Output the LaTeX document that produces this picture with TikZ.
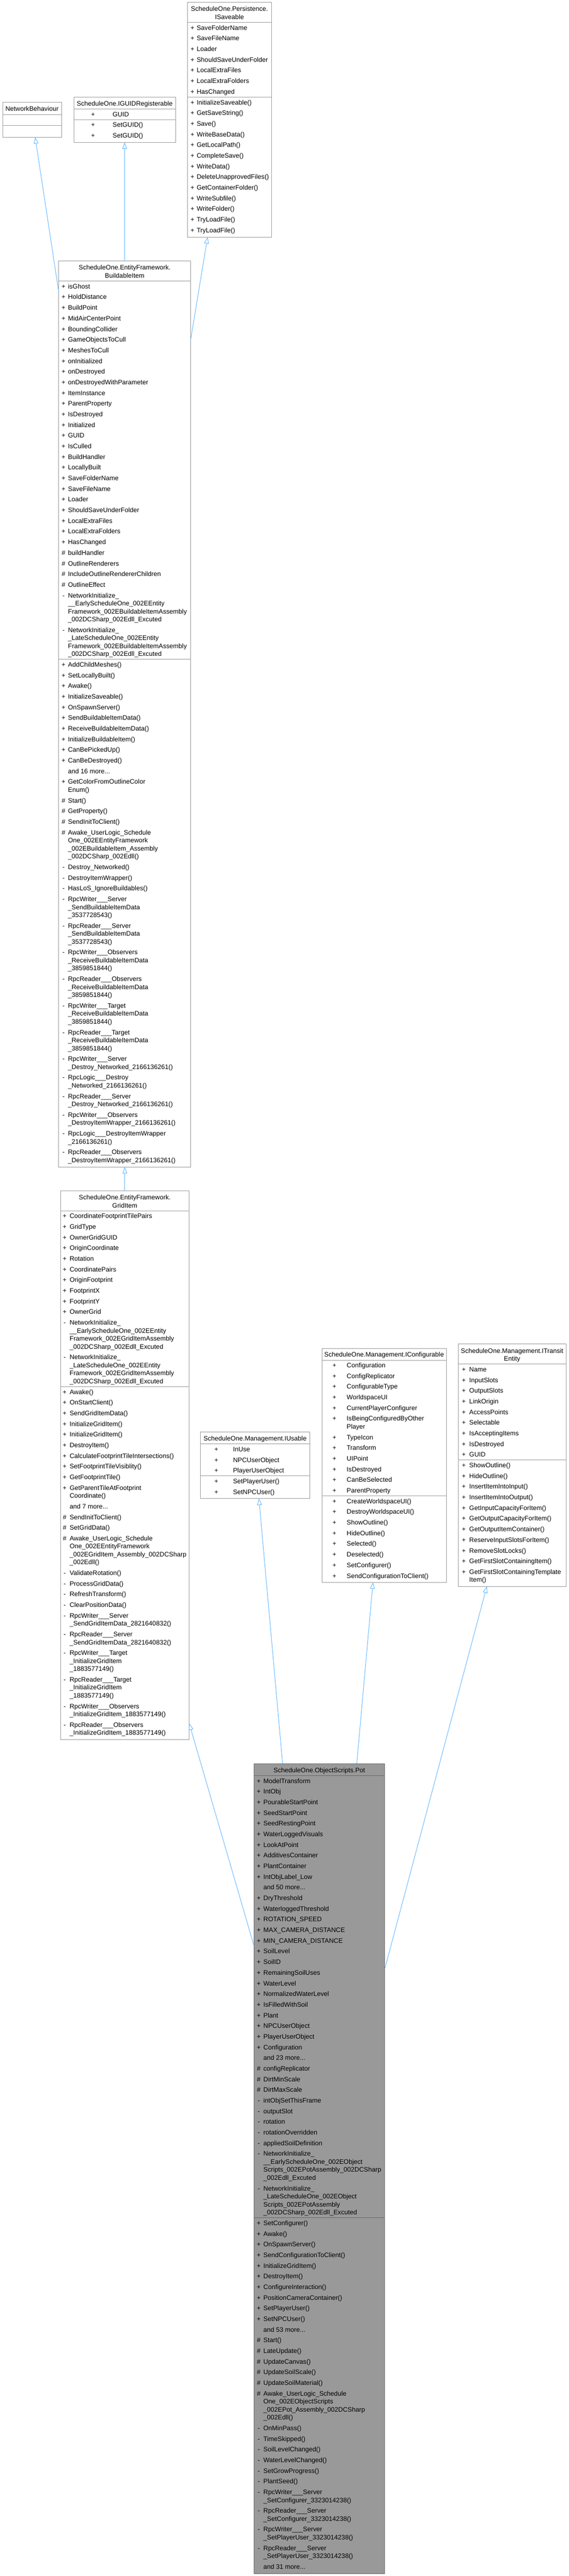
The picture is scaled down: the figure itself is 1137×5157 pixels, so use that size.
\documentclass[tikz,border=0pt]{standalone}
\usepackage{fontspec}
\setmainfont{Liberation Sans}
\usetikzlibrary{arrows.meta,calc}
\definecolor{boxgray}{HTML}{999999}
\definecolor{potborder}{HTML}{666666}
\definecolor{edgeblue}{HTML}{63B8FF}
\newcount\tn
\def\cy{0}\def\symx{0}\def\txtx{0}
\newcommand\fs{\fontsize{13}{16}\selectfont}
\newcommand\rowsat[3]{\gdef\symx{#1}\gdef\txtx{#2}\pgfmathparse{#3-21.33}\xdef\cy{\pgfmathresult}}
\newcommand\ent[2]{\pgfmathparse{\cy+21.33}\xdef\cy{\pgfmathresult}\global\advance\tn by 1\relax
  \node[txt,anchor=base] (s\the\tn) at (\symx,\cy+4.7) {#1};
  \node[txt,anchor=base west] (t\the\tn) at (\txtx,\cy+4.7) {#2};}
\newcommand\mor[1]{\pgfmathparse{\cy+21.33}\xdef\cy{\pgfmathresult}\global\advance\tn by 1\relax
  \node[txt,anchor=base west] (t\the\tn) at (\txtx,\cy+4.7) {#1};}
\newcommand\cnt[1]{\pgfmathparse{\cy+16}\xdef\cy{\pgfmathresult}\global\advance\tn by 1\relax
  \node[txt,anchor=base west] (t\the\tn) at (\txtx,\cy+4.7) {#1};}
\newcommand\sepat[2]{\draw[sepl] (#1,\cy+10.67) -- (#2,\cy+10.67);}
\newcommand\ttl[3]{\global\advance\tn by 1\relax\node[txt,anchor=base] (h\the\tn) at (#1,#2+4.7) {#3};}
\begin{document}
\begin{tikzpicture}[x=1pt,y=-1pt,
  txt/.style={inner sep=0pt,outer sep=0pt,font=\fs,text=black},
  cbox/.style={draw=boxgray,fill=white,line width=1pt,inner sep=0pt,outer sep=0pt,anchor=north west},
  mainbox/.style={cbox,draw=potborder,fill=boxgray},
  sepl/.style={draw=boxgray,line width=1pt},
  psepl/.style={draw=potborder,line width=1pt},
  inh/.style={draw=edgeblue,line width=1pt,-{Triangle[fill=white,length=13pt,width=9.5pt]}}]
\fill[white] (0,0) rectangle (1137,5157);
\useasboundingbox (0,0) rectangle (1137,5157);

% ---------- boxes ----------
\node[cbox,minimum width=117.6pt,minimum height=69.6pt] (nb) at (5.2,205) {};
\node[cbox,minimum width=203.5pt,minimum height=90.4pt] (iguid) at (147.6,194.6) {};
\node[cbox,minimum width=167.9pt,minimum height=469.6pt] (isave) at (374.8,5) {};
\node[cbox,minimum width=263.5pt,minimum height=1813.4pt] (bi) at (117.5,522.8) {};
\node[cbox,minimum width=257.6pt,minimum height=1098.2pt] (gi) at (120.7,2383.8) {};
\node[cbox,minimum width=218pt,minimum height=133.3pt] (iuse) at (401,2866.7) {};
\node[cbox,minimum width=248.6pt,minimum height=468.3pt] (iconf) at (643.7,2699.3) {};
\node[cbox,minimum width=215.7pt,minimum height=485.2pt] (ite) at (916,2690.8) {};
\node[mainbox,minimum width=261.6pt,minimum height=1621.7pt] (pot) at (507.7,3530.6) {};

% ---------- connectors ----------
\draw[inh] ($(bi.north west)+(0,62.2)$) -- ($(nb.south west)+(65.1,0)$);
\draw[inh] (bi.north) -- (bi.north |- iguid.south);
\draw[inh] ($(bi.north east)+(0,158.6)$) -- ($(isave.south west)+(40.2,0)$);
\draw[inh] (gi.north) -- (gi.north |- bi.south);
\draw[inh] ($(pot.north west)+(0,364.4)$) -- ($(gi.north east)+(0,1066.5)$);
\draw[inh] ($(pot.north west)+(57.3,0)$) -- ($(iuse.south west)+(116.7,0)$);
\draw[inh] ($(pot.north west)+(205.6,0)$) -- ($(iconf.south west)+(102,0)$);
\draw[inh] ($(pot.north east)+(0,410.7)$) -- ($(ite.south west)+(57.3,0)$);

% ---------- NetworkBehaviour ----------
\ttl{64}{217.9}{NetworkBehaviour}
\draw[sepl] (5.2,229.3) -- (122.8,229.3);
\draw[sepl] (5.2,251.1) -- (122.8,251.1);

% ---------- IGUIDRegisterable ----------
\ttl{249.35}{207.1}{ScheduleOne.IGUIDRegisterable}
\draw[sepl] (147.6,218.6) -- (351.1,218.6);
\rowsat{186}{225.3}{228.6}
\ent{+}{GUID}
\sepat{147.6}{351.1}
\ent{+}{SetGUID()}
\ent{+}{SetGUID()}

% ---------- ISaveable ----------
\ttl{458.75}{17.9}{ScheduleOne.Persistence.}
\ttl{458.75}{34.3}{ISaveable}
\draw[sepl] (374.8,45) -- (542.7,45);
\rowsat{384.8}{393.3}{55.4}
\ent{+}{SaveFolderName}
\ent{+}{SaveFileName}
\ent{+}{Loader}
\ent{+}{ShouldSaveUnderFolder}
\ent{+}{LocalExtraFiles}
\ent{+}{LocalExtraFolders}
\ent{+}{HasChanged}
\sepat{374.8}{542.7}
\ent{+}{InitializeSaveable()}
\ent{+}{GetSaveString()}
\ent{+}{Save()}
\ent{+}{WriteBaseData()}
\ent{+}{GetLocalPath()}
\ent{+}{CompleteSave()}
\ent{+}{WriteData()}
\ent{+}{DeleteUnapprovedFiles()}
\ent{+}{GetContainerFolder()}
\ent{+}{WriteSubfile()}
\ent{+}{WriteFolder()}
\ent{+}{TryLoadFile()}
\ent{+}{TryLoadFile()}

% ---------- BuildableItem ----------
\ttl{249.25}{535.7}{ScheduleOne.EntityFramework.}
\ttl{249.25}{551.6}{BuildableItem}
\draw[sepl] (117.5,562.9) -- (381,562.9);
\rowsat{127}{136}{573.2}
\ent{+}{isGhost}
\ent{+}{HoldDistance}
\ent{+}{BuildPoint}
\ent{+}{MidAirCenterPoint}
\ent{+}{BoundingCollider}
\ent{+}{GameObjectsToCull}
\ent{+}{MeshesToCull}
\ent{+}{onInitialized}
\ent{+}{onDestroyed}
\ent{+}{onDestroyedWithParameter}
\ent{+}{ItemInstance}
\ent{+}{ParentProperty}
\ent{+}{IsDestroyed}
\ent{+}{Initialized}
\ent{+}{GUID}
\ent{+}{IsCulled}
\ent{+}{BuildHandler}
\ent{+}{LocallyBuilt}
\ent{+}{SaveFolderName}
\ent{+}{SaveFileName}
\ent{+}{Loader}
\ent{+}{ShouldSaveUnderFolder}
\ent{+}{LocalExtraFiles}
\ent{+}{LocalExtraFolders}
\ent{+}{HasChanged}
\ent{\#}{buildHandler}
\ent{\#}{OutlineRenderers}
\ent{\#}{IncludeOutlineRendererChildren}
\ent{\#}{OutlineEffect}
\ent{-}{NetworkInitialize\_}
\cnt{\_\_EarlyScheduleOne\_002EEntity}
\cnt{Framework\_002EBuildableItemAssembly}
\cnt{\_002DCSharp\_002Edll\_Excuted}
\ent{-}{NetworkInitialize\_}
\cnt{\_LateScheduleOne\_002EEntity}
\cnt{Framework\_002EBuildableItemAssembly}
\cnt{\_002DCSharp\_002Edll\_Excuted}
\sepat{117.5}{381}
\ent{+}{AddChildMeshes()}
\ent{+}{SetLocallyBuilt()}
\ent{+}{Awake()}
\ent{+}{InitializeSaveable()}
\ent{+}{OnSpawnServer()}
\ent{+}{SendBuildableItemData()}
\ent{+}{ReceiveBuildableItemData()}
\ent{+}{InitializeBuildableItem()}
\ent{+}{CanBePickedUp()}
\ent{+}{CanBeDestroyed()}
\mor{and 16 more...}
\ent{+}{GetColorFromOutlineColor}
\cnt{Enum()}
\ent{\#}{Start()}
\ent{\#}{GetProperty()}
\ent{\#}{SendInitToClient()}
\ent{\#}{Awake\_UserLogic\_Schedule}
\cnt{One\_002EEntityFramework}
\cnt{\_002EBuildableItem\_Assembly}
\cnt{\_002DCSharp\_002Edll()}
\ent{-}{Destroy\_Networked()}
\ent{-}{DestroyItemWrapper()}
\ent{-}{HasLoS\_IgnoreBuildables()}
\ent{-}{RpcWriter\_\_\_Server}
\cnt{\_SendBuildableItemData}
\cnt{\_3537728543()}
\ent{-}{RpcReader\_\_\_Server}
\cnt{\_SendBuildableItemData}
\cnt{\_3537728543()}
\ent{-}{RpcWriter\_\_\_Observers}
\cnt{\_ReceiveBuildableItemData}
\cnt{\_3859851844()}
\ent{-}{RpcReader\_\_\_Observers}
\cnt{\_ReceiveBuildableItemData}
\cnt{\_3859851844()}
\ent{-}{RpcWriter\_\_\_Target}
\cnt{\_ReceiveBuildableItemData}
\cnt{\_3859851844()}
\ent{-}{RpcReader\_\_\_Target}
\cnt{\_ReceiveBuildableItemData}
\cnt{\_3859851844()}
\ent{-}{RpcWriter\_\_\_Server}
\cnt{\_Destroy\_Networked\_2166136261()}
\ent{-}{RpcLogic\_\_\_Destroy}
\cnt{\_Networked\_2166136261()}
\ent{-}{RpcReader\_\_\_Server}
\cnt{\_Destroy\_Networked\_2166136261()}
\ent{-}{RpcWriter\_\_\_Observers}
\cnt{\_DestroyItemWrapper\_2166136261()}
\ent{-}{RpcLogic\_\_\_DestroyItemWrapper}
\cnt{\_2166136261()}
\ent{-}{RpcReader\_\_\_Observers}
\cnt{\_DestroyItemWrapper\_2166136261()}

% ---------- GridItem ----------
\ttl{249.5}{2397.2}{ScheduleOne.EntityFramework.}
\ttl{249.5}{2413.3}{GridItem}
\draw[sepl] (120.7,2424) -- (378.3,2424);
\rowsat{129.3}{139.3}{2434.3}
\ent{+}{CoordinateFootprintTilePairs}
\ent{+}{GridType}
\ent{+}{OwnerGridGUID}
\ent{+}{OriginCoordinate}
\ent{+}{Rotation}
\ent{+}{CoordinatePairs}
\ent{+}{OriginFootprint}
\ent{+}{FootprintX}
\ent{+}{FootprintY}
\ent{+}{OwnerGrid}
\ent{-}{NetworkInitialize\_}
\cnt{\_\_EarlyScheduleOne\_002EEntity}
\cnt{Framework\_002EGridItemAssembly}
\cnt{\_002DCSharp\_002Edll\_Excuted}
\ent{-}{NetworkInitialize\_}
\cnt{\_LateScheduleOne\_002EEntity}
\cnt{Framework\_002EGridItemAssembly}
\cnt{\_002DCSharp\_002Edll\_Excuted}
\sepat{120.7}{378.3}
\ent{+}{Awake()}
\ent{+}{OnStartClient()}
\ent{+}{SendGridItemData()}
\ent{+}{InitializeGridItem()}
\ent{+}{InitializeGridItem()}
\ent{+}{DestroyItem()}
\ent{+}{CalculateFootprintTileIntersections()}
\ent{+}{SetFootprintTileVisiblity()}
\ent{+}{GetFootprintTile()}
\ent{+}{GetParentTileAtFootprint}
\cnt{Coordinate()}
\mor{and 7 more...}
\ent{\#}{SendInitToClient()}
\ent{\#}{SetGridData()}
\ent{\#}{Awake\_UserLogic\_Schedule}
\cnt{One\_002EEntityFramework}
\cnt{\_002EGridItem\_Assembly\_002DCSharp}
\cnt{\_002Edll()}
\ent{-}{ValidateRotation()}
\ent{-}{ProcessGridData()}
\ent{-}{RefreshTransform()}
\ent{-}{ClearPositionData()}
\ent{-}{RpcWriter\_\_\_Server}
\cnt{\_SendGridItemData\_2821640832()}
\ent{-}{RpcReader\_\_\_Server}
\cnt{\_SendGridItemData\_2821640832()}
\ent{-}{RpcWriter\_\_\_Target}
\cnt{\_InitializeGridItem}
\cnt{\_1883577149()}
\ent{-}{RpcReader\_\_\_Target}
\cnt{\_InitializeGridItem}
\cnt{\_1883577149()}
\ent{-}{RpcWriter\_\_\_Observers}
\cnt{\_InitializeGridItem\_1883577149()}
\ent{-}{RpcReader\_\_\_Observers}
\cnt{\_InitializeGridItem\_1883577149()}

% ---------- IUsable ----------
\ttl{510}{2879.2}{ScheduleOne.Management.IUsable}
\draw[sepl] (401,2890.8) -- (619,2890.8);
\rowsat{432.5}{466}{2901.1}
\ent{+}{InUse}
\ent{+}{NPCUserObject}
\ent{+}{PlayerUserObject}
\sepat{401}{619}
\ent{+}{SetPlayerUser()}
\ent{+}{SetNPCUser()}

% ---------- IConfigurable ----------
\ttl{768}{2711.3}{ScheduleOne.Management.IConfigurable}
\draw[sepl] (643.7,2722.9) -- (892.3,2722.9);
\rowsat{668.7}{693.3}{2733.2}
\ent{+}{Configuration}
\ent{+}{ConfigReplicator}
\ent{+}{ConfigurableType}
\ent{+}{WorldspaceUI}
\ent{+}{CurrentPlayerConfigurer}
\ent{+}{IsBeingConfiguredByOther}
\cnt{Player}
\ent{+}{TypeIcon}
\ent{+}{Transform}
\ent{+}{UIPoint}
\ent{+}{IsDestroyed}
\ent{+}{CanBeSelected}
\ent{+}{ParentProperty}
\sepat{643.7}{892.3}
\ent{+}{CreateWorldspaceUI()}
\ent{+}{DestroyWorldspaceUI()}
\ent{+}{ShowOutline()}
\ent{+}{HideOutline()}
\ent{+}{Selected()}
\ent{+}{Deselected()}
\ent{+}{SetConfigurer()}
\ent{+}{SendConfigurationToClient()}

% ---------- ITransitEntity ----------
\ttl{1023.85}{2704.2}{ScheduleOne.Management.ITransit}
\ttl{1023.85}{2719.5}{Entity}
\draw[sepl] (916,2730.2) -- (1131.7,2730.2);
\rowsat{927.3}{938.3}{2741.3}
\ent{+}{Name}
\ent{+}{InputSlots}
\ent{+}{OutputSlots}
\ent{+}{LinkOrigin}
\ent{+}{AccessPoints}
\ent{+}{Selectable}
\ent{+}{IsAcceptingItems}
\ent{+}{IsDestroyed}
\ent{+}{GUID}
\sepat{916}{1131.7}
\ent{+}{ShowOutline()}
\ent{+}{HideOutline()}
\ent{+}{InsertItemIntoInput()}
\ent{+}{InsertItemIntoOutput()}
\ent{+}{GetInputCapacityForItem()}
\ent{+}{GetOutputCapacityForItem()}
\ent{+}{GetOutputItemContainer()}
\ent{+}{ReserveInputSlotsForItem()}
\ent{+}{RemoveSlotLocks()}
\ent{+}{GetFirstSlotContainingItem()}
\ent{+}{GetFirstSlotContainingTemplate}
\cnt{Item()}

% ---------- Pot ----------
\ttl{638.5}{3543.6}{ScheduleOne.ObjectScripts.Pot}
\draw[psepl] (507.7,3554.7) -- (769.3,3554.7);
\rowsat{517.4}{526.7}{3565}
\ent{+}{ModelTransform}
\ent{+}{IntObj}
\ent{+}{PourableStartPoint}
\ent{+}{SeedStartPoint}
\ent{+}{SeedRestingPoint}
\ent{+}{WaterLoggedVisuals}
\ent{+}{LookAtPoint}
\ent{+}{AdditivesContainer}
\ent{+}{PlantContainer}
\ent{+}{IntObjLabel\_Low}
\mor{and 50 more...}
\ent{+}{DryThreshold}
\ent{+}{WaterloggedThreshold}
\ent{+}{ROTATION\_SPEED}
\ent{+}{MAX\_CAMERA\_DISTANCE}
\ent{+}{MIN\_CAMERA\_DISTANCE}
\ent{+}{SoilLevel}
\ent{+}{SoilID}
\ent{+}{RemainingSoilUses}
\ent{+}{WaterLevel}
\ent{+}{NormalizedWaterLevel}
\ent{+}{IsFilledWithSoil}
\ent{+}{Plant}
\ent{+}{NPCUserObject}
\ent{+}{PlayerUserObject}
\ent{+}{Configuration}
\mor{and 23 more...}
\ent{\#}{configReplicator}
\ent{\#}{DirtMinScale}
\ent{\#}{DirtMaxScale}
\ent{-}{intObjSetThisFrame}
\ent{-}{outputSlot}
\ent{-}{rotation}
\ent{-}{rotationOverridden}
\ent{-}{appliedSoilDefinition}
\ent{-}{NetworkInitialize\_}
\cnt{\_\_EarlyScheduleOne\_002EObject}
\cnt{Scripts\_002EPotAssembly\_002DCSharp}
\cnt{\_002Edll\_Excuted}
\ent{-}{NetworkInitialize\_}
\cnt{\_LateScheduleOne\_002EObject}
\cnt{Scripts\_002EPotAssembly}
\cnt{\_002DCSharp\_002Edll\_Excuted}
\draw[psepl] (507.7,\cy+10.67) -- (769.3,\cy+10.67);
\ent{+}{SetConfigurer()}
\ent{+}{Awake()}
\ent{+}{OnSpawnServer()}
\ent{+}{SendConfigurationToClient()}
\ent{+}{InitializeGridItem()}
\ent{+}{DestroyItem()}
\ent{+}{ConfigureInteraction()}
\ent{+}{PositionCameraContainer()}
\ent{+}{SetPlayerUser()}
\ent{+}{SetNPCUser()}
\mor{and 53 more...}
\ent{\#}{Start()}
\ent{\#}{LateUpdate()}
\ent{\#}{UpdateCanvas()}
\ent{\#}{UpdateSoilScale()}
\ent{\#}{UpdateSoilMaterial()}
\ent{\#}{Awake\_UserLogic\_Schedule}
\cnt{One\_002EObjectScripts}
\cnt{\_002EPot\_Assembly\_002DCSharp}
\cnt{\_002Edll()}
\ent{-}{OnMinPass()}
\ent{-}{TimeSkipped()}
\ent{-}{SoilLevelChanged()}
\ent{-}{WaterLevelChanged()}
\ent{-}{SetGrowProgress()}
\ent{-}{PlantSeed()}
\ent{-}{RpcWriter\_\_\_Server}
\cnt{\_SetConfigurer\_3323014238()}
\ent{-}{RpcReader\_\_\_Server}
\cnt{\_SetConfigurer\_3323014238()}
\ent{-}{RpcWriter\_\_\_Server}
\cnt{\_SetPlayerUser\_3323014238()}
\ent{-}{RpcReader\_\_\_Server}
\cnt{\_SetPlayerUser\_3323014238()}
\mor{and 31 more...}
\end{tikzpicture}
\end{document}
